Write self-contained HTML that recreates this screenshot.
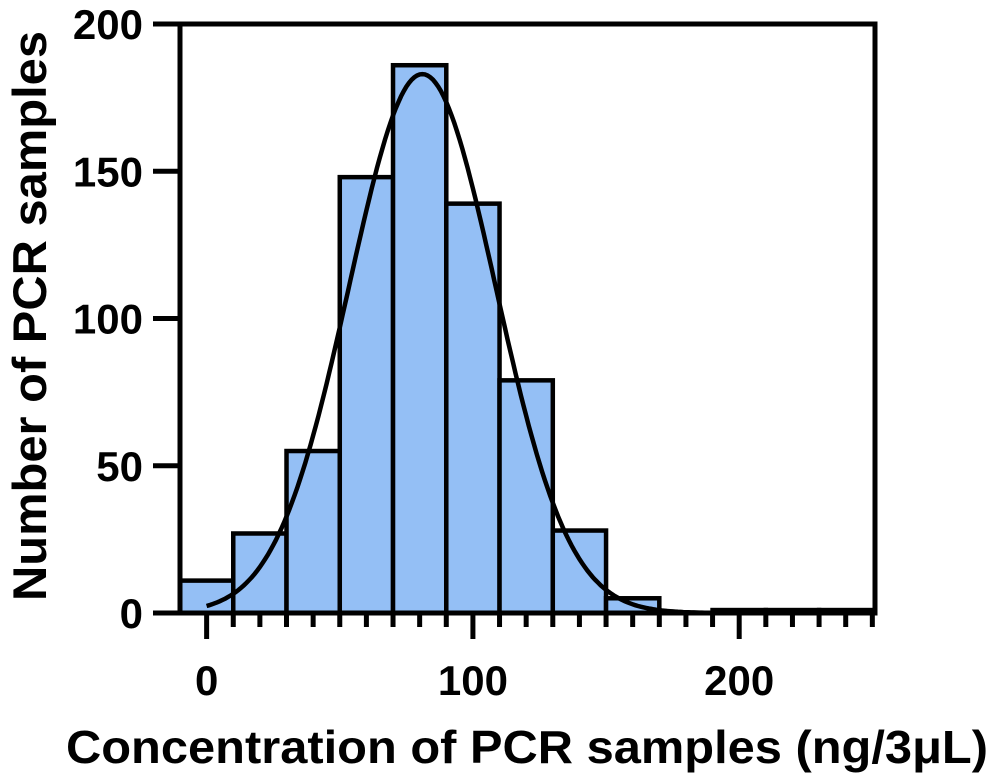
<!DOCTYPE html>
<html><head><meta charset="utf-8"><style>
body{margin:0;background:#fff;}
svg{display:block;font-family:"Liberation Sans",Arial,sans-serif;font-weight:bold;}
</style></head><body>
<svg id="chart" width="1000" height="783" viewBox="0 0 1000 783">
<g id="bars"></g>
<path id="fit" fill="none" stroke="#000" stroke-width="4.5"/>
<g id="axes"></g>
<text transform="translate(46,316) rotate(-90)" text-anchor="middle" font-size="47" textLength="570" lengthAdjust="spacingAndGlyphs">Number of PCR samples</text>
<text x="527" y="763" text-anchor="middle" font-size="46" textLength="922" lengthAdjust="spacingAndGlyphs">Concentration of PCR samples (ng/3μL)</text>
</svg>
<script>
const binStarts=[-10,10,30,50,70,90,110,130,150,170,190,210,230];
const counts=[11,27,55,148,186,139,79,28,5,0,1,1,1];
const binWidth=20;
const fitMean=81, fitSd=27.5, fitPeak=183;
const yTicks=[0,50,100,150,200];
const xTicks=[0,100,200];
const X0=180,X1=875,Y0=613,Y1=24, xMin=-10,xMax=251, yMin=0,yMax=200;
const sx=v=>X0+(v-xMin)/(xMax-xMin)*(X1-X0);
const sy=v=>Y0-(v-yMin)/(yMax-yMin)*(Y0-Y1);
const NS="http://www.w3.org/2000/svg";
function mk(t,a,p){const e=document.createElementNS(NS,t);for(const k in a)e.setAttribute(k,a[k]);p.appendChild(e);return e;}
const bars=document.getElementById('bars');
binStarts.forEach((b,i)=>{
  if(counts[i]<=0)return;
  const x=sx(b),w=sx(b+binWidth)-x,y=sy(counts[i]);
  const r=mk('rect',{x:x,y:y,width:w,height:Y0-y,fill:'#94bff5',stroke:'#000','stroke-width':4.5},bars);
  
  
});
let d='';
for(let v=0;v<=250;v+=1){const c=fitPeak*Math.exp(-((v-fitMean)**2)/(2*fitSd*fitSd));d+=(v?'L':'M')+sx(v).toFixed(1)+','+sy(c).toFixed(1);}
document.getElementById('fit').setAttribute('d',d);
const ax=document.getElementById('axes');
mk('path',{d:`M${X0},${Y1}H${X1}V${Y0}H${X0}Z`,fill:'none',stroke:'#000','stroke-width':5},ax);
yTicks.forEach(t=>{
  mk('line',{x1:153,x2:X0,y1:sy(t),y2:sy(t),stroke:'#000','stroke-width':5},ax);
  const tx=mk('text',{x:143,y:sy(t)+15,'text-anchor':'end','font-size':42},ax);tx.textContent=t;
  
  
});
for(let v=0;v<=250;v+=10){
  const major=xTicks.includes(v);
  mk('line',{x1:sx(v),x2:sx(v),y1:Y0,y2:Y0+(major?26:14),stroke:'#000','stroke-width':5},ax);
}
xTicks.forEach(t=>{
  const tx=mk('text',{x:sx(t),y:695,'text-anchor':'middle','font-size':42},ax);tx.textContent=t;
  
  
});
</script>
</body></html>
